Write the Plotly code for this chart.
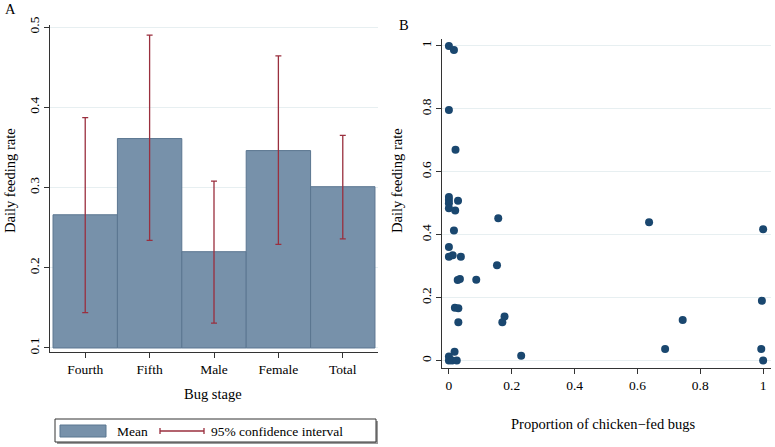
import plotly.graph_objects as go

# ---------------- data ----------------
stages = ["Fourth", "Fifth", "Male", "Female", "Total"]
mean_rate = [0.266, 0.361, 0.220, 0.346, 0.301]
ci_low = [0.144, 0.234, 0.131, 0.229, 0.236]
ci_high = [0.387, 0.490, 0.308, 0.464, 0.365]

prop_chicken = [0.0, 0.016, 0.0, 0.021, 0.0, 0.0, 0.0, 0.0, 0.029, 0.020,
                0.157, 0.016, 0.0, 0.0, 0.012, 0.038, 0.153, 0.028, 0.035, 0.087,
                0.019, 0.030, 0.177, 0.170, 0.030, 0.018, 0.0, 0.0, 0.010, 0.025,
                0.230, 0.637, 1.0, 0.996, 0.744, 0.688, 0.994, 1.0]
feed_rate = [1.0, 0.987, 0.796, 0.670, 0.520, 0.510, 0.500, 0.484, 0.508, 0.477,
             0.452, 0.413, 0.361, 0.330, 0.335, 0.330, 0.303, 0.256, 0.259, 0.257,
             0.168, 0.166, 0.140, 0.122, 0.122, 0.028, 0.013, 0.0, 0.0, 0.0,
             0.015, 0.440, 0.417, 0.190, 0.129, 0.037, 0.037, 0.0]

a_yticks = [0.1, 0.2, 0.3, 0.4, 0.5]
b_ticks = [0, 0.2, 0.4, 0.6, 0.8, 1]
b_ticktext = ["0", "0.2", "0.4", "0.6", "0.8", "1"]

# ---------------- style ----------------
FONT = "Liberation Serif"
BAR_COLOR = "#7791AA"
BAR_EDGE = "#5B7690"
CI_COLOR = "#9A2F3E"
DOT_COLOR = "#1A476F"
GRID = "#E7EFF1"
BAR_BASE = 0.1
W, H = 775, 447

def px(x):
    return x / W

def py(y):
    return 1 - y / H

fig = go.Figure()

fig.add_trace(go.Bar(
    x=stages, y=[m - BAR_BASE for m in mean_rate], base=BAR_BASE, width=1,
    marker=dict(color=BAR_COLOR, line=dict(color=BAR_EDGE, width=1)),
    xaxis="x", yaxis="y", showlegend=False, hoverinfo="skip"))

fig.add_trace(go.Scatter(
    x=stages, y=mean_rate, mode="markers",
    marker=dict(size=1, opacity=0),
    error_y=dict(type="data", symmetric=False,
                 array=[h - m for h, m in zip(ci_high, mean_rate)],
                 arrayminus=[m - l for m, l in zip(mean_rate, ci_low)],
                 color=CI_COLOR, thickness=1.3, width=3),
    xaxis="x", yaxis="y", showlegend=False))

fig.add_trace(go.Scatter(
    x=prop_chicken, y=feed_rate, mode="markers",
    marker=dict(size=8, color=DOT_COLOR),
    xaxis="x2", yaxis="y2", showlegend=False))

axis_common = dict(showline=True, linecolor="#333333", linewidth=1,
                   ticks="outside", ticklen=5, tickcolor="#333333",
                   tickfont=dict(family=FONT, size=13.5, color="black"),
                   zeroline=False, mirror=False, automargin=False)

fig.update_layout(
    width=W, height=H, margin=dict(l=0, r=0, t=0, b=0, autoexpand=False),
    paper_bgcolor="white", plot_bgcolor="white",
    font=dict(family=FONT, color="black"),
    showlegend=False,
    xaxis=dict(domain=[px(50), px(378)], range=[-0.547, 4.547], anchor="y",
               showgrid=False, type="category", **axis_common),
    yaxis=dict(domain=[py(352), py(25)], range=[0.095, 0.5025], anchor="x",
               tickvals=a_yticks, ticktext=[str(v) for v in a_yticks],
               tickangle=-90, showgrid=True, gridcolor=GRID, gridwidth=1,
               **axis_common),
    xaxis2=dict(domain=[px(442), px(771)], range=[-0.022, 1.025], anchor="y2",
                tickvals=b_ticks, ticktext=b_ticktext, showgrid=False, **axis_common),
    yaxis2=dict(domain=[py(367.5), py(39)], range=[-0.022, 1.022], anchor="x2",
                tickvals=b_ticks, ticktext=b_ticktext, tickangle=-90,
                showgrid=True, gridcolor=GRID, gridwidth=1, **axis_common),
)

ann = []
def text(x, y, s, size=14, angle=0, xanchor="center"):
    ann.append(dict(x=px(x), y=py(y), xref="paper", yref="paper", text=s,
                    showarrow=False, textangle=angle, xanchor=xanchor, yanchor="middle",
                    font=dict(family=FONT, size=size, color="black")))

text(10, 9, "A", 14.5)
text(404, 25, "B", 14.5)
text(10, 181, "Daily feeding rate", 14.5, -90)
text(397, 180, "Daily feeding rate", 14.5, -90)
text(213, 394, "Bug stage", 14.5)
text(603, 424, "Proportion of chicken\u2212fed bugs", 14.5)
text(115, 431, "Mean", 13.5, xanchor="left")
text(209, 431, "95% confidence interval", 13.5, xanchor="left")

shapes = []
def rect(x0, y0, x1, y1, fill, line=None, lw=0):
    shapes.append(dict(type="rect", xref="paper", yref="paper",
                       x0=px(x0), x1=px(x1), y0=py(y1), y1=py(y0),
                       fillcolor=fill, line=dict(color=line or fill, width=lw)))
def seg(x0, y0, x1, y1, color, lw=1.2):
    shapes.append(dict(type="line", xref="paper", yref="paper",
                       x0=px(x0), x1=px(x1), y0=py(y0), y1=py(y1),
                       line=dict(color=color, width=lw)))

# legend box with shadow
rect(57, 421, 378, 444, "#9A9A9A")
rect(55, 419, 376, 442, "white", "#333333", 1)
rect(60, 425, 106, 437, BAR_COLOR, BAR_EDGE, 1)
seg(160, 431, 204, 431, CI_COLOR, 1.3)
seg(160, 428, 160, 434, CI_COLOR, 1.3)
seg(204, 428, 204, 434, CI_COLOR, 1.3)

fig.update_layout(annotations=ann, shapes=shapes)

fig.write_html("out.html", config={"displayModeBar": False},
               post_script="document.body.style.margin='0';document.body.style.overflow='hidden';")
